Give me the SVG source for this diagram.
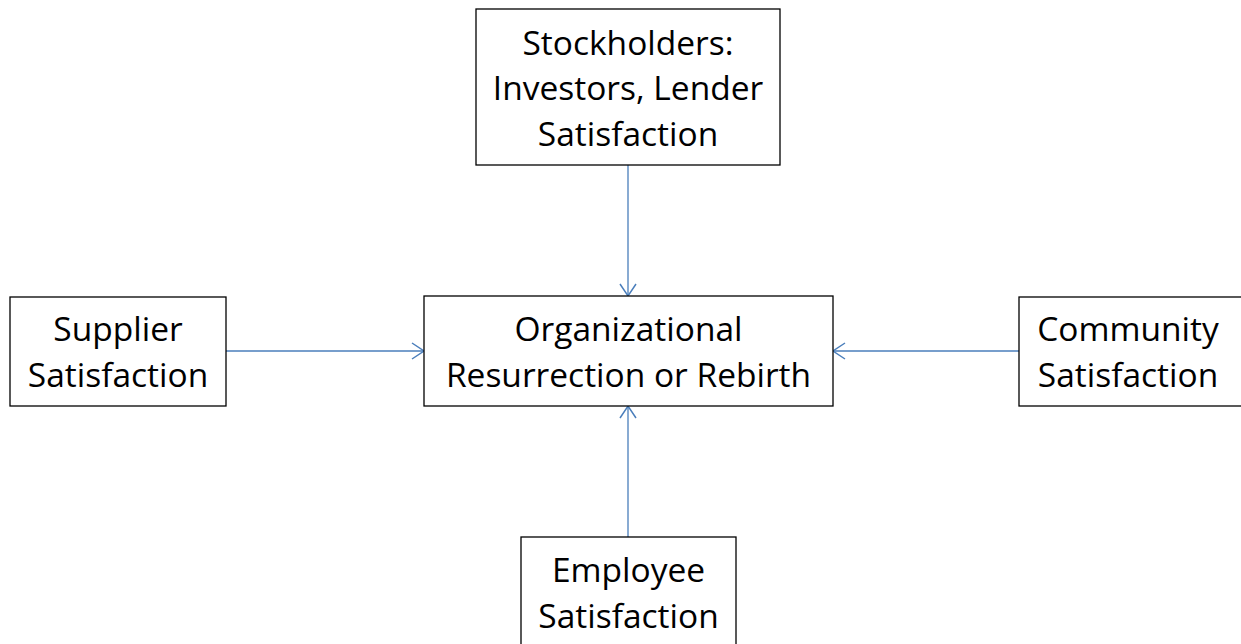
<svg xmlns="http://www.w3.org/2000/svg" width="1241" height="644" viewBox="0 0 1241 644">
<style>
.box{fill:#fff;stroke:#000;stroke-width:1.3}
.t{font-family:"Open Sans","Noto Sans",sans-serif;font-size:33.5px;fill:#000;text-anchor:middle}
.c{stroke:#4a7ebb;stroke-width:1.3;fill:none}
</style>
<defs>
<marker id="a" viewBox="0 0 16 18" refX="14" refY="9" markerWidth="16" markerHeight="18" markerUnits="userSpaceOnUse" orient="auto">
<path d="M2,1 L14,9 L2,17" fill="none" stroke="#4a7ebb" stroke-width="1.5"/>
</marker>
</defs>
<rect width="1241" height="644" fill="#fff"/>
<g id="connectors">
<line class="c" x1="628" y1="165" x2="628" y2="296" marker-end="url(#a)"/>
<line class="c" x1="226" y1="351" x2="424" y2="351" marker-end="url(#a)"/>
<line class="c" x1="1019" y1="351" x2="833" y2="351" marker-end="url(#a)"/>
<line class="c" x1="628" y1="537" x2="628" y2="406" marker-end="url(#a)"/>
</g>
<g id="stockholders">
<rect class="box" x="476" y="9" width="304" height="156"/>
<text class="t" x="628" y="55">Stockholders:</text>
<text class="t" x="628" y="100">Investors, Lender</text>
<text class="t" x="628" y="146">Satisfaction</text>
</g>
<g id="center">
<rect class="box" x="424" y="296" width="409" height="110"/>
<text class="t" x="628.5" y="341">Organizational</text>
<text class="t" x="628.5" y="387">Resurrection or Rebirth</text>
</g>
<g id="supplier">
<rect class="box" x="10" y="297" width="216" height="109"/>
<text class="t" x="118" y="341">Supplier</text>
<text class="t" x="118" y="387">Satisfaction</text>
</g>
<g id="community">
<rect class="box" x="1019" y="297" width="226" height="109"/>
<text class="t" x="1128" y="341">Community</text>
<text class="t" x="1128" y="387">Satisfaction</text>
</g>
<g id="employee">
<rect class="box" x="521" y="537" width="215" height="112"/>
<text class="t" x="628.5" y="582">Employee</text>
<text class="t" x="628.5" y="628">Satisfaction</text>
</g>
</svg>
